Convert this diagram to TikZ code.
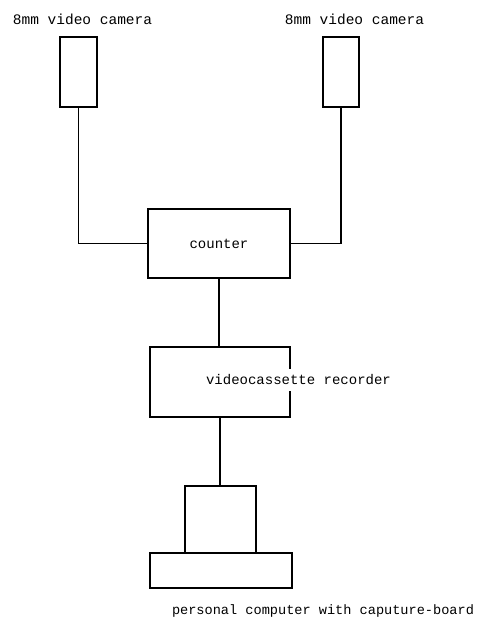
\documentclass[tikz,border=0pt]{standalone}
\usepackage{fontspec}
\setmainfont{Liberation Mono}
\begin{document}
\begin{tikzpicture}[x=1pt,y=-1pt,
  box/.style={draw,line width=1.4pt,rectangle,inner sep=0pt},
  lbl/.style={inner sep=0pt,font=\fontsize{14}{16}\selectfont},
  wire/.style={line width=1.6pt}]
\useasboundingbox (0,0) rectangle (486,619);
\node[lbl,font=\fontsize{14.5}{16}\selectfont] (lab1) at (82.5,19) {8mm video camera};
\node[lbl,font=\fontsize{14.5}{16}\selectfont] (lab2) at (354.5,19) {8mm video camera};
\node[box,minimum width=37pt,minimum height=70pt] (cam1) at (78.5,72) {};
\node[box,minimum width=36pt,minimum height=70pt] (cam2) at (341,72) {};
\node[box,minimum width=142pt,minimum height=69pt,font=\fontsize{14}{16}\selectfont] (counter) at (219,243.5) {counter};
\node[box,minimum width=140pt,minimum height=70pt] (vcr) at (220,382) {};
\node[lbl,fill=white,inner xsep=1pt,inner ysep=6pt] (vcrlab) at (298.5,380) {videocassette recorder};
\node[box,minimum width=71pt,minimum height=67pt] (monitor) at (220.5,519.5) {};
\node[box,minimum width=142pt,minimum height=35pt] (base) at (221,570.5) {};
\node[lbl,font=\fontsize{13.6}{16}\selectfont] (pclab) at (323,611) {personal computer with caputure-board};
\draw[wire] (cam1.south) |- (counter.west);
\draw[wire] (cam2.south) |- (counter.east);
\draw[wire] (counter.south) -- (counter.south |- vcr.north);
\draw[wire] (vcr.south) -- (vcr.south |- monitor.north);
\end{tikzpicture}
\end{document}
